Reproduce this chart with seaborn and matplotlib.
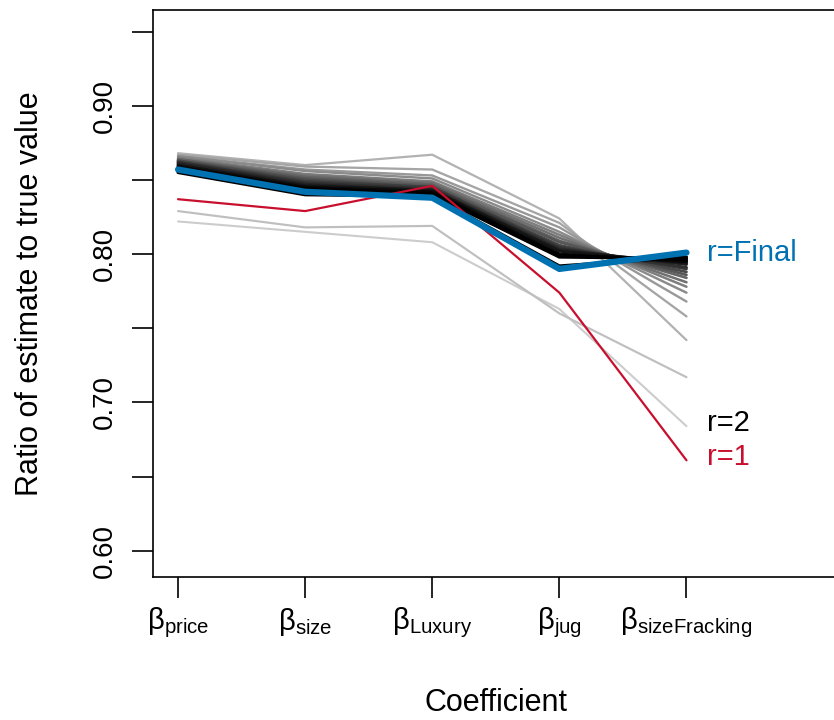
import matplotlib.pyplot as plt
import numpy as np
import pandas as pd
import seaborn as sns
import matplotlib

sns.set_style("white")
matplotlib.rcParams.update({
    'font.family': ['Liberation Sans', 'DejaVu Sans'],
    'mathtext.fontset': 'custom',
    'mathtext.rm': 'Liberation Sans',
    'mathtext.it': 'Liberation Sans:italic',
    'text.color': 'black',
    'axes.labelcolor': 'black',
    'xtick.color': 'black',
    'ytick.color': 'black',
    'figure.dpi': 100,
})

# coefficient names (subscripts of beta)
coefs = ["price", "size", "Luxury", "jug", "sizeFracking"]
tick_labels = [r"$\mathrm{β}_{\mathrm{%s}}$" % c for c in coefs]

# ratio of estimate to true value, one row per round r=1..20
rounds = [
    [0.837, 0.829, 0.846, 0.774, 0.661],  # r=1
    [0.822, 0.815, 0.808, 0.763, 0.684],  # r=2
    [0.829, 0.818, 0.819, 0.760, 0.717],
    [0.868, 0.860, 0.867, 0.824, 0.742],
    [0.867, 0.859, 0.857, 0.821, 0.758],
    [0.866, 0.857, 0.853, 0.818, 0.768],
    [0.866, 0.856, 0.851, 0.815, 0.774],
    [0.865, 0.854, 0.849, 0.813, 0.778],
    [0.864, 0.853, 0.848, 0.811, 0.781],
    [0.864, 0.852, 0.847, 0.809, 0.784],
    [0.863, 0.851, 0.846, 0.808, 0.786],
    [0.863, 0.850, 0.845, 0.806, 0.788],
    [0.862, 0.849, 0.845, 0.805, 0.790],
    [0.862, 0.848, 0.844, 0.804, 0.791],
    [0.861, 0.847, 0.843, 0.803, 0.793],
    [0.860, 0.846, 0.843, 0.802, 0.794],
    [0.859, 0.845, 0.842, 0.800, 0.795],
    [0.858, 0.844, 0.841, 0.799, 0.796],
    [0.857, 0.843, 0.840, 0.798, 0.797],
    [0.855, 0.840, 0.839, 0.792, 0.798],
]
final = [0.857, 0.842, 0.838, 0.790, 0.801]

rows = []
for r, vals in enumerate(rounds, start=1):
    for lab, v in zip(tick_labels, vals):
        rows.append({"coef": lab, "ratio": v, "round": r})
df = pd.DataFrame(rows)

# grey ramp from light (r=2) to black for later rounds
n = len(rounds)
greys = 0.80 * np.clip(1 - np.linspace(0, 1.15, n - 1), 0, 1)
palette = {r: str(round(g, 3)) for r, g in zip(range(2, n + 1), greys)}

fig = plt.figure(figsize=(8.34, 7.2))
ax = fig.add_axes([0.183, 0.199, 0.823, 0.787])

for r in range(2, n + 1):
    g = float(palette[r])
    sns.lineplot(data=df[df["round"] == r], x="coef", y="ratio", color=palette[r],
                 sort=False, linewidth=1.5 + 0.8 * (1 - g / 0.8), ax=ax)
sns.lineplot(data=df[df["round"] == 1], x="coef", y="ratio", color="#C8102E",
             sort=False, linewidth=1.6, ax=ax)
sns.lineplot(x=tick_labels, y=final, color="#0072B2", sort=False,
             linewidth=4.5, ax=ax, solid_capstyle="round")

last = len(tick_labels) - 1
ax.annotate("r=Final", xy=(last, final[-1]), xytext=(15, 0), textcoords="offset points",
            color="#0072B2", fontsize=21, va="center", ha="left")
ax.annotate("r=2", xy=(last, rounds[1][-1]), xytext=(15, 2), textcoords="offset points",
            color="black", fontsize=21, va="center", ha="left")
ax.annotate("r=1", xy=(last, rounds[0][-1]), xytext=(15, 2), textcoords="offset points",
            color="#C8102E", fontsize=21, va="center", ha="left")

ax.set_xlim(-0.2, 5.2)
ax.set_ylim(0.5825, 0.9645)
yt = [0.60, 0.65, 0.70, 0.75, 0.80, 0.85, 0.90, 0.95]
ax.set_yticks(yt)
ax.set_yticklabels(["0.60", "", "0.70", "", "0.80", "", "0.90", ""],
                   rotation=90, va="center")
ax.tick_params(axis="both", direction="out", length=15, width=1.2,
               color="black", left=True, bottom=True)
ax.tick_params(axis="y", pad=10, labelsize=20)
ax.tick_params(axis="x", pad=6, labelsize=21)
for s in ax.spines.values():
    s.set_visible(True)
    s.set_color("black")
    s.set_linewidth(1.2)

ax.set_xlabel("Coefficient", fontsize=22, labelpad=34)
ax.set_ylabel("Ratio of estimate to true value", fontsize=22, labelpad=34)

fig.savefig("out.png", dpi=100)
